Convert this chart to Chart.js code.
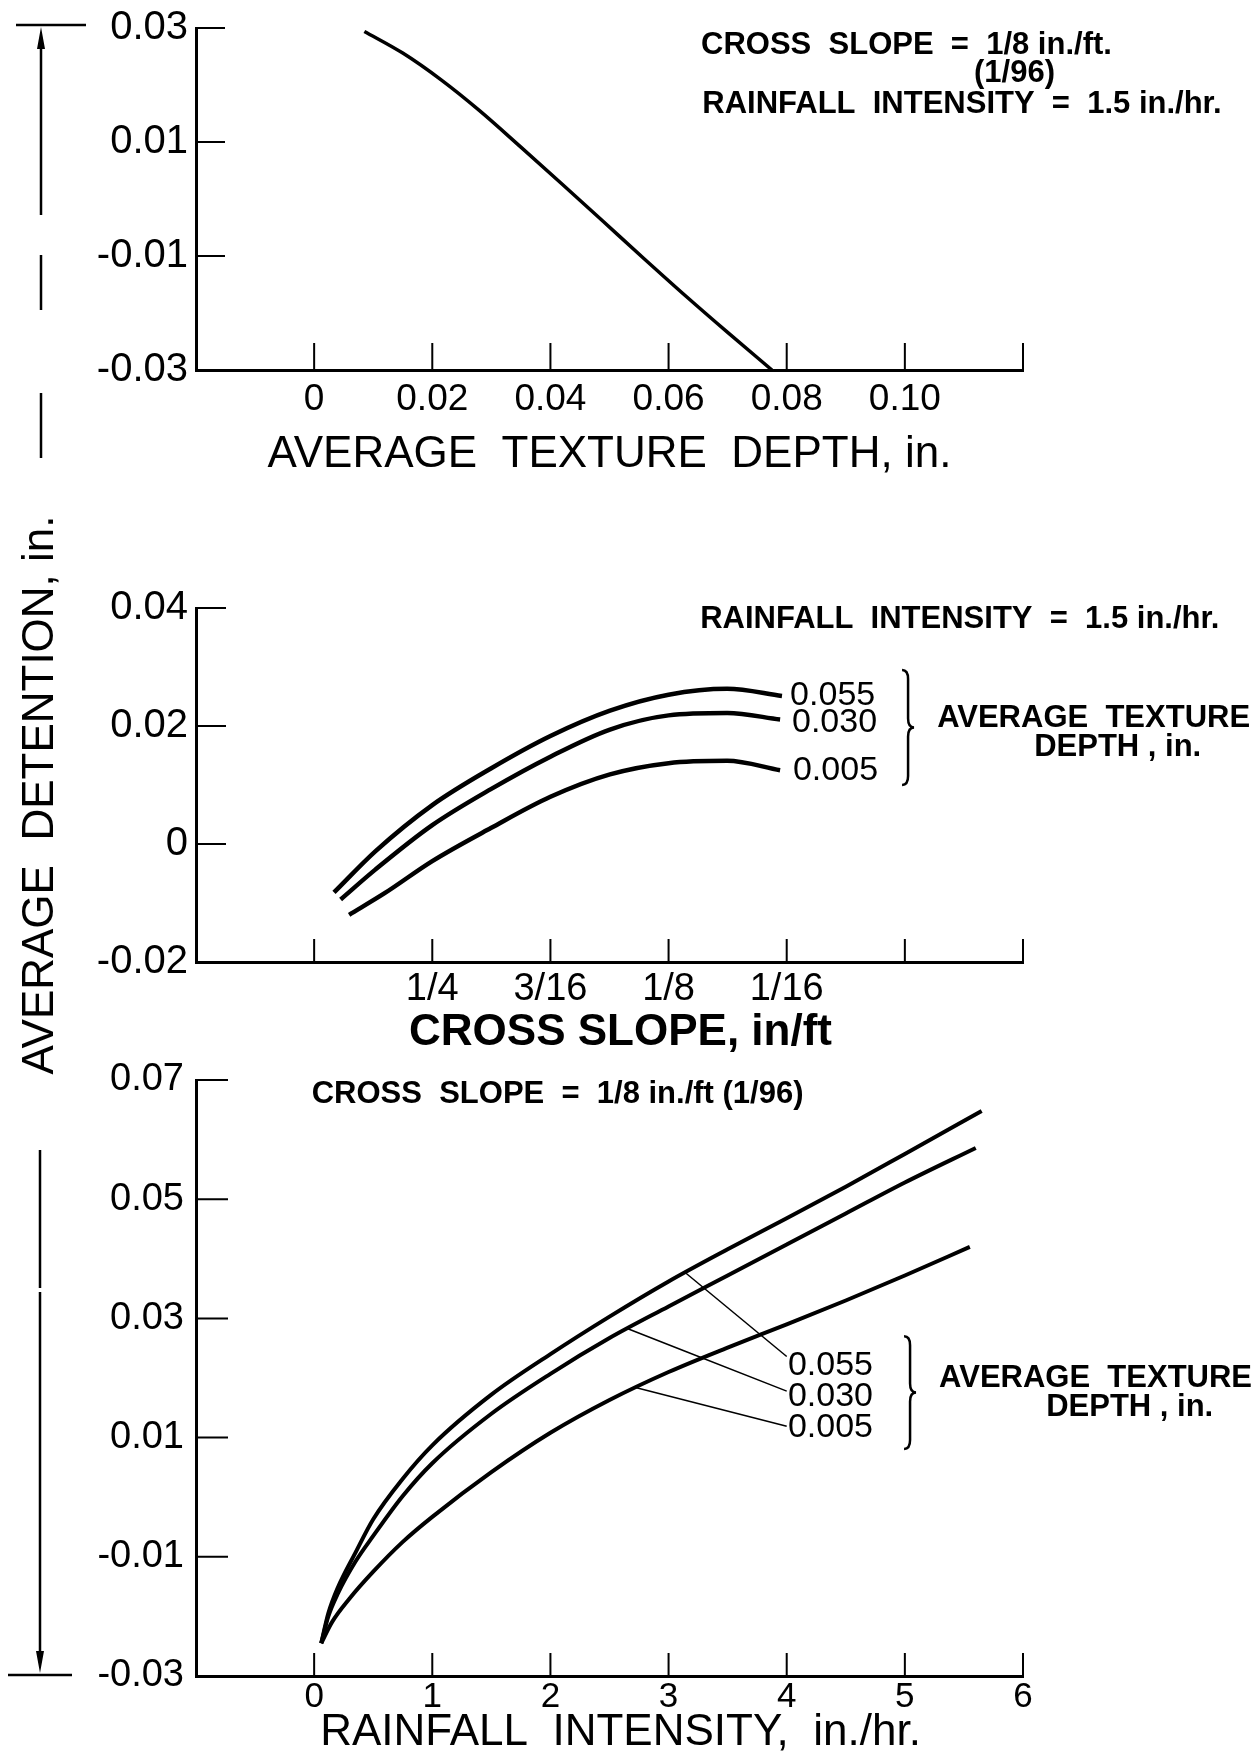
<!DOCTYPE html>
<html>
<head>
<meta charset="utf-8">
<title>Average detention</title>
<script src="https://cdn.jsdelivr.net/npm/chart.js@4.4.1/dist/chart.umd.min.js"></script>
<style>
  html, body { margin: 0; padding: 0; background: #fff; }
  #page { position: relative; width: 1257px; height: 1756px; background: #fff; }
  #page canvas { position: absolute; left: 0; top: 0; }
</style>
</head>
<body>
<div id="page">
  <canvas id="chartDepth" width="1257" height="1756"></canvas>
  <canvas id="chartSlope" width="1257" height="1756"></canvas>
  <canvas id="chartRain" width="1257" height="1756"></canvas>
</div>
<script>
// ---- data ----

// top panel: detention vs average texture depth
const depthX = [0.0085, 0.0150, 0.0215, 0.0280, 0.0350, 0.0420, 0.0490, 0.0560, 0.0630, 0.0700, 0.0775];
const depthDetention = [0.0294, 0.0256, 0.0209, 0.0155, 0.0091, 0.0026, -0.0040, -0.0106, -0.0171, -0.0234, -0.0300];
const depthTicks = [0, 0.02, 0.04, 0.06, 0.08, 0.10, 0.12];
const depthTickLabels = ['0', '0.02', '0.04', '0.06', '0.08', '0.10', ''];
const detTicksTop = [-0.03, -0.01, 0.01, 0.03];
const detLabelsTop = ['-0.03', '-0.01', '0.01', '0.03'];

// middle panel: detention vs cross slope (in/ft), one curve per texture depth
const slope055 = [0.065, 0.094, 0.125, 0.156, 0.1875, 0.219, 0.25, 0.28, 0.302];
const slopeDet055 = [0.0251, 0.0263, 0.0253, 0.0226, 0.0183, 0.0128, 0.0066, -0.0012, -0.0082];
const slope030 = [0.066, 0.094, 0.125, 0.156, 0.1875, 0.219, 0.25, 0.28, 0.2985];
const slopeDet030 = [0.0211, 0.0222, 0.0218, 0.0194, 0.0148, 0.0093, 0.0032, -0.0043, -0.0094];
const slope005 = [0.066, 0.094, 0.125, 0.156, 0.1875, 0.219, 0.25, 0.275, 0.294];
const slopeDet005 = [0.0125, 0.0141, 0.0137, 0.0118, 0.0080, 0.0027, -0.0029, -0.0083, -0.0120];
const slopeTicks = [-1 / 16, 0, 1 / 16, 2 / 16, 3 / 16, 4 / 16, 5 / 16];
const slopeTickLabels = ['', '', '1/16', '1/8', '3/16', '1/4', ''];
const detTicksMid = [-0.02, 0, 0.02, 0.04];
const detLabelsMid = ['-0.02', '0', '0.02', '0.04'];

// bottom panel: detention vs rainfall intensity (in./hr.)
const rain055 = [0.06, 0.12, 0.2, 0.35, 0.5, 0.75, 1.0, 1.5, 2.0, 2.5, 3.0, 3.5, 4.0, 4.5, 5.0, 5.65];
const rainDet055 = [-0.0245, -0.0195, -0.0152, -0.0093, -0.0037, 0.0031, 0.0087, 0.0172, 0.0240, 0.0303, 0.0362, 0.0416, 0.0468, 0.0521, 0.0576, 0.0648];
const rain030 = [0.06, 0.12, 0.2, 0.35, 0.5, 0.75, 1.0, 1.5, 2.0, 2.5, 3.0, 3.5, 4.0, 4.5, 5.0, 5.6];
const rainDet030 = [-0.0245, -0.0200, -0.0162, -0.0108, -0.0065, 0.0002, 0.0057, 0.0140, 0.0207, 0.0267, 0.0320, 0.0372, 0.0424, 0.0476, 0.0528, 0.0586];
const rain005 = [0.06, 0.15, 0.3, 0.5, 0.75, 1.0, 1.5, 2.0, 2.5, 3.0, 3.5, 4.0, 4.5, 5.0, 5.55];
const rainDet005 = [-0.0245, -0.0210, -0.0170, -0.0125, -0.0075, -0.0033, 0.0042, 0.0108, 0.0163, 0.0210, 0.0251, 0.0290, 0.0330, 0.0372, 0.0420];
// leader lines from the curves to their labels
const leader055X = [3.14, 4.0], leader055Y = [0.0377, 0.0236];
const leader030X = [2.65, 4.0], leader030Y = [0.0283, 0.0178];
const leader005X = [2.72, 4.0], leader005Y = [0.0184, 0.0119];
const rainTicks = [0, 1, 2, 3, 4, 5, 6];
const rainTickLabels = ['0', '1', '2', '3', '4', '5', '6'];
const detTicksLow = [-0.03, -0.01, 0.01, 0.03, 0.05, 0.07];
const detLabelsLow = ['-0.03', '-0.01', '0.01', '0.03', '0.05', '0.07'];

const depthNames = ['0.055', '0.030', '0.005'];

// ---- drawing helpers ----
const FONT = '"Liberation Sans", "DejaVu Sans", Arial, sans-serif';
const PAGE_W = 1257, PAGE_H = 1756;
const NOTE_FONT = 'bold 31px ' + FONT;
const NUM_FONT = '34px ' + FONT;

function series(xs, ys, width) {
  return {
    data: xs.map((x, i) => ({ x: x, y: ys[i] })),
    borderColor: '#000',
    borderWidth: width,
    pointRadius: 0,
    fill: false,
    cubicInterpolationMode: 'monotone',
    borderCapStyle: 'butt'
  };
}

function drawBrace(ctx, x, y0, y1) {
  const m = (y0 + y1) / 2, w = 6, r = 9;
  ctx.beginPath();
  ctx.moveTo(x - w, y0);
  ctx.quadraticCurveTo(x, y0, x, y0 + r);
  ctx.lineTo(x, m - r);
  ctx.quadraticCurveTo(x, m, x + w, m);
  ctx.quadraticCurveTo(x, m, x, m + r);
  ctx.lineTo(x, y1 - r);
  ctx.quadraticCurveTo(x, y1, x - w, y1);
  ctx.stroke();
}

// tick marks that point into the plot, as in the original drawing
const innerTicks = {
  id: 'innerTicks',
  afterDatasetsDraw(chart, args, opts) {
    const ctx = chart.ctx, area = chart.chartArea;
    const xs = chart.scales.x, ys = chart.scales.y;
    ctx.save();
    ctx.strokeStyle = '#000';
    ctx.lineWidth = 2;
    ctx.beginPath();
    xs.ticks.forEach(t => {
      const px = xs.getPixelForValue(t.value);
      if (Math.abs(px - area.left) < 3) return;
      ctx.moveTo(px, area.bottom);
      ctx.lineTo(px, area.bottom - opts.xLen);
    });
    ys.ticks.forEach(t => {
      const py = ys.getPixelForValue(t.value);
      if (Math.abs(py - area.bottom) < 3) return;
      ctx.moveTo(area.left, py);
      ctx.lineTo(area.left + opts.yLen, py);
    });
    ctx.stroke();
    ctx.restore();
  }
};

// text notes and braces, anchored in data units
const notes = {
  id: 'notes',
  afterDraw(chart, args, opts) {
    const ctx = chart.ctx, xs = chart.scales.x, ys = chart.scales.y;
    ctx.save();
    ctx.fillStyle = '#000';
    ctx.strokeStyle = '#000';
    ctx.textBaseline = 'middle';
    (opts.texts || []).forEach(n => {
      ctx.font = n.font;
      ctx.textAlign = 'left';
      ctx.fillText(n.text, xs.getPixelForValue(n.x), ys.getPixelForValue(n.y));
    });
    ctx.lineWidth = 2.5;
    (opts.braces || []).forEach(b => {
      drawBrace(ctx, xs.getPixelForValue(b.x), ys.getPixelForValue(b.y0), ys.getPixelForValue(b.y1));
    });
    ctx.restore();
  }
};

// shared y title and the long arrow on the left side of the page
const sideTitle = {
  id: 'sideTitle',
  afterDraw(chart) {
    const ctx = chart.ctx;
    ctx.save();
    ctx.strokeStyle = '#000';
    ctx.fillStyle = '#000';
    ctx.lineWidth = 2.5;
    ctx.beginPath();
    ctx.moveTo(16, 25); ctx.lineTo(86, 25);
    [[40, 215], [255, 310], [393, 458]].forEach(s => { ctx.moveTo(41, s[0]); ctx.lineTo(41, s[1]); });
    [[1150, 1288], [1292, 1655]].forEach(s => { ctx.moveTo(40, s[0]); ctx.lineTo(40, s[1]); });
    ctx.moveTo(8, 1675); ctx.lineTo(72, 1675);
    ctx.stroke();
    ctx.beginPath();
    ctx.moveTo(41, 27); ctx.lineTo(37, 49); ctx.lineTo(45, 49); ctx.closePath();
    ctx.moveTo(40, 1673); ctx.lineTo(36, 1651); ctx.lineTo(44, 1651); ctx.closePath();
    ctx.fill();
    ctx.translate(41, 795);
    ctx.rotate(-Math.PI / 2);
    ctx.font = '44px ' + FONT;
    ctx.textAlign = 'center';
    ctx.textBaseline = 'middle';
    ctx.fillText('AVERAGE  DETENTION, in.', 0, 0);
    ctx.restore();
  }
};

function buildChart(id, p) {
  const yAxisW = 150;
  return new Chart(document.getElementById(id), {
    type: 'line',
    data: { datasets: p.datasets },
    options: {
      responsive: false,
      animation: false,
      events: [],
      layout: {
        padding: {
          left: p.area.left - yAxisW,
          right: PAGE_W - p.area.right,
          top: p.area.top,
          bottom: PAGE_H - p.area.bottom - p.xAxisH
        }
      },
      plugins: {
        legend: { display: false },
        tooltip: { enabled: false },
        innerTicks: { xLen: p.xTickLen, yLen: p.yTickLen },
        notes: { texts: p.texts || [], braces: p.braces || [] }
      },
      scales: {
        x: {
          type: 'linear',
          min: p.xMin,
          max: p.xMax,
          reverse: !!p.xReverse,
          afterBuildTicks: s => { s.ticks = p.xTicks.map(v => ({ value: v })); },
          afterFit: s => { s.height = p.xAxisH; },
          grid: { display: false, drawTicks: false },
          border: { display: true, color: '#000', width: 3 },
          ticks: {
            color: '#000',
            padding: p.xPad,
            maxRotation: 0,
            autoSkip: false,
            font: { family: FONT, size: p.xFont, lineHeight: 1 },
            callback: (v, i) => p.xLabels[i]
          },
          title: {
            display: true,
            text: p.xTitle,
            color: '#000',
            font: { family: FONT, size: p.titleSize, weight: p.titleWeight, lineHeight: 1 },
            padding: { top: 0, bottom: 0 }
          }
        },
        y: {
          type: 'linear',
          min: p.yMin,
          max: p.yMax,
          afterBuildTicks: s => { s.ticks = p.yTicks.map(v => ({ value: v })); },
          afterFit: s => { s.width = yAxisW; },
          grid: { display: false, drawTicks: false },
          border: { display: true, color: '#000', width: 3 },
          ticks: {
            color: '#000',
            padding: p.yPad,
            font: { family: FONT, size: p.yFont, lineHeight: 1 },
            callback: (v, i) => p.yLabels[i]
          }
        }
      }
    },
    plugins: [innerTicks, notes].concat(p.extra || [])
  });
}

// ---- top panel ----
buildChart('chartDepth', {
  area: { left: 196, right: 1023, top: 26, bottom: 370 },
  xAxisH: 107,
  xMin: -0.02, xMax: 0.12, xTicks: depthTicks, xLabels: depthTickLabels,
  yMin: -0.03, yMax: 0.03, yTicks: detTicksTop, yLabels: detLabelsTop,
  xFont: 37, yFont: 40, xPad: 11, yPad: 8,
  xTickLen: 27, yTickLen: 29,
  xTitle: 'AVERAGE  TEXTURE  DEPTH, in.', titleSize: 44, titleWeight: 'normal',
  datasets: [series(depthX, depthDetention, 3.5)],
  texts: [
    { text: 'CROSS  SLOPE  =  1/8 in./ft.', x: 0.0655, y: 0.0270, font: NOTE_FONT },
    { text: '(1/96)', x: 0.1117, y: 0.0220, font: NOTE_FONT },
    { text: 'RAINFALL  INTENSITY  =  1.5 in./hr.', x: 0.0657, y: 0.0166, font: NOTE_FONT }
  ]
});

// ---- middle panel ----
buildChart('chartSlope', {
  area: { left: 196, right: 1023, top: 608, bottom: 962 },
  xAxisH: 93,
  xMin: -1 / 16, xMax: 6 / 16, xReverse: true, xTicks: slopeTicks, xLabels: slopeTickLabels,
  yMin: -0.02, yMax: 0.04, yTicks: detTicksMid, yLabels: detLabelsMid,
  xFont: 38, yFont: 40, xPad: 9, yPad: 8,
  xTickLen: 23, yTickLen: 30,
  xTitle: '\u2002CROSS SLOPE, in/ft', titleSize: 44, titleWeight: 'bold',
  datasets: [
    series(slope055, slopeDet055, 4.5),
    series(slope030, slopeDet030, 4.5),
    series(slope005, slopeDet005, 4.5)
  ],
  texts: [
    { text: 'RAINFALL  INTENSITY  =  1.5 in./hr.', x: 0.1083, y: 0.0380, font: NOTE_FONT },
    { text: depthNames[0], x: 0.0607, y: 0.0252, font: NUM_FONT },
    { text: depthNames[1], x: 0.0597, y: 0.0205, font: NUM_FONT },
    { text: depthNames[2], x: 0.0592, y: 0.0125, font: NUM_FONT },
    { text: 'AVERAGE  TEXTURE', x: -0.0171, y: 0.0213, font: NOTE_FONT },
    { text: 'DEPTH , in.', x: -0.0684, y: 0.0163, font: NOTE_FONT }
  ],
  braces: [{ x: -0.0017, y0: 0.0295, y1: 0.0100 }],
  extra: [sideTitle]
});

// ---- bottom panel ----
buildChart('chartRain', {
  area: { left: 196, right: 1023, top: 1080, bottom: 1676 },
  xAxisH: 79,
  xMin: -1, xMax: 6, xTicks: rainTicks, xLabels: rainTickLabels,
  yMin: -0.03, yMax: 0.07, yTicks: detTicksLow, yLabels: detLabelsLow,
  xFont: 35, yFont: 38, xPad: 4, yPad: 12,
  xTickLen: 23, yTickLen: 32,
  xTitle: '\u2002RAINFALL  INTENSITY,  in./hr.', titleSize: 44, titleWeight: 'normal',
  datasets: [
    series(rain055, rainDet055, 4),
    series(rain030, rainDet030, 4),
    series(rain005, rainDet005, 4),
    series(leader055X, leader055Y, 1.5),
    series(leader030X, leader030Y, 1.5),
    series(leader005X, leader005Y, 1.5)
  ],
  texts: [
    { text: 'CROSS  SLOPE  =  1/8 in./ft (1/96)', x: -0.0207, y: 0.0675, font: NOTE_FONT },
    { text: depthNames[0], x: 4.01, y: 0.0221, font: NUM_FONT },
    { text: depthNames[1], x: 4.01, y: 0.0168, font: NUM_FONT },
    { text: depthNames[2], x: 4.01, y: 0.0116, font: NUM_FONT },
    { text: 'AVERAGE  TEXTURE', x: 5.29, y: 0.0200, font: NOTE_FONT },
    { text: 'DEPTH , in.', x: 6.196, y: 0.0151, font: NOTE_FONT }
  ],
  braces: [{ x: 5.044, y0: 0.0270, y1: 0.0081 }]
});
</script>
</body>
</html>
